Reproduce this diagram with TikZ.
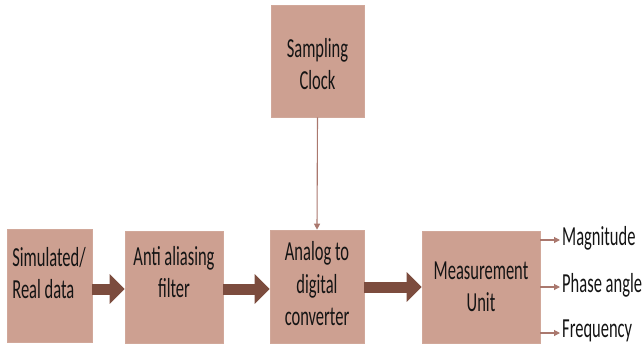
\documentclass[tikz,border=0pt]{standalone}
\usepackage{fontspec}
\usetikzlibrary{arrows.meta}
\newfontfamily\lblfont[FakeStretch=0.6]{Carlito}
\definecolor{boxfill}{RGB}{205,160,145}
\definecolor{flowbrown}{RGB}{124,76,62}
\definecolor{thinbrown}{RGB}{170,120,110}
\definecolor{txt}{RGB}{20,20,20}
\tikzset{
  blockbox/.style={draw=boxfill!92!white, line width=0.6pt, fill=boxfill, inner sep=0pt},
  lbl/.style={text=txt, align=center, inner sep=0pt, font=\lblfont\fontsize{27.5}{32.5}\selectfont},
  lbll/.style={lbl, align=left},
  bigflow/.style={draw=flowbrown, line width=11pt, -{Triangle[length=15pt,width=29pt]}},
  thinflow/.style={draw=thinbrown, line width=1.1pt, -{Triangle[length=6pt,width=6pt]}},
  outlbl/.style={lbl, anchor=west}
}
\begin{document}
\begin{tikzpicture}[x=1pt,y=-1pt]
\useasboundingbox (0,0) rectangle (643,349);
% blocks
\node[blockbox, minimum width=85pt, minimum height=113pt] (src) at (49.5,285.5) {};
\node[blockbox, minimum width=98pt, minimum height=112pt] (aaf) at (174,287) {};
\node[blockbox, minimum width=94pt, minimum height=113pt] (adc) at (317,286.5) {};
\node[blockbox, minimum width=93pt, minimum height=112pt] (clk) at (317.5,61) {};
\node[blockbox, minimum width=118pt, minimum height=112pt] (mu) at (481,287) {};
% block texts
\node[lbll] (srct) at (49,273) {Simulated/\\Real data};
\node[lbl] (aaft) at (174,272) {Anti aliasing\\filter};
\node[lbl] (adct) at (317,284) {Analog to\\digital\\converter};
\node[lbl] (clkt) at (317.5,64) {Sampling\\Clock};
\node[lbl] (mut) at (481,287) {Measurement\\Unit};
% signal flow
\draw[bigflow] (src.east |- 0,289) -- (aaf.west |- 0,289);
\draw[bigflow] (aaf.east |- 0,289) -- (adc.west |- 0,289);
\draw[bigflow] (adc.east |- 0,287) -- (mu.west |- 0,287);
\draw[thinflow] (clk.south) -- (adc.north);
% outputs
\coordinate (o1) at (560,240);
\coordinate (o2) at (560,287);
\coordinate (o3) at (560,333);
\draw[thinflow] (mu.east |- o1) -- (o1);
\draw[thinflow] (mu.east |- o2) -- (o2);
\draw[thinflow] (mu.east |- o3) -- (o3);
\node[outlbl] (m) at (562,238) {Magnitude};
\node[outlbl] (p) at (562,285) {Phase angle};
\node[outlbl] (f) at (562,331) {Frequency};
\end{tikzpicture}
\end{document}
